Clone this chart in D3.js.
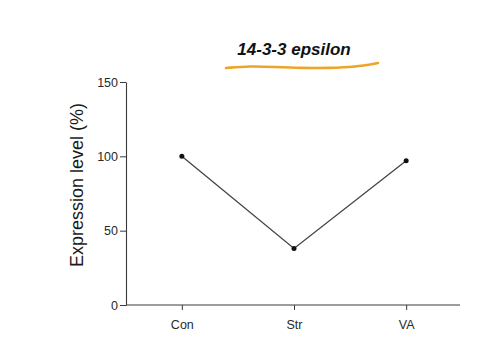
<!DOCTYPE html>
<html>
<head>
<meta charset="utf-8">
<script src="https://cdn.jsdelivr.net/npm/d3@7"></script>
<style>
  body { margin: 0; background: #fff; }
  text { font-family: "Liberation Sans", Arial, sans-serif; }
</style>
</head>
<body>
<div id="chart"></div>
<script>
var groups = ["Con", "Str", "VA"];
var expression = [100, 38, 97];
var yTicks = [0, 50, 100, 150];
var chartTitle = "14-3-3 epsilon";
var yLabel = "Expression level (%)";

var totalWidth = 502, totalHeight = 361;
var margin = {top: 82, right: 42, bottom: 56, left: 126};

var svg = d3.select("#chart").append("svg")
    .attr("width", totalWidth)
    .attr("height", totalHeight);

var x_scale = d3.scalePoint()
    .domain(groups)
    .range([margin.left + 2, totalWidth - margin.right])
    .padding(0.48);
var y_scale = d3.scaleLinear()
    .domain([0, 150])
    .range([totalHeight - margin.bottom, margin.top]);

// axes
var xAxis = svg.append("g")
    .attr("transform", "translate(0," + y_scale(0) + ")")
    .call(d3.axisBottom(x_scale).tickSize(5).tickSizeOuter(0));
var yAxis = svg.append("g")
    .attr("transform", "translate(" + margin.left + ",0)")
    .call(d3.axisLeft(y_scale).tickValues(yTicks).tickSize(6).tickSizeOuter(0));

[xAxis, yAxis].forEach(function(a){
    a.select(".domain").attr("stroke", "#3a3a3a").attr("stroke-width", 1.1);
    a.selectAll(".tick line").attr("stroke", "#3a3a3a");
    a.selectAll(".tick text").attr("fill", "#2a2a2a").style("font-size", "12.5px");
});
xAxis.selectAll(".tick text").attr("dy", "1.3em");
yAxis.selectAll(".tick text").attr("x", -8);
// extend x axis a bit to the left so it joins the y axis
xAxis.select(".domain").attr("d", "M" + (margin.left) + ",0H" + (totalWidth - margin.right));

// line + points
var line = d3.line()
    .x(function(d, i){ return x_scale(groups[i]); })
    .y(function(d){ return y_scale(d); });

svg.append("path")
    .datum(expression)
    .attr("d", line)
    .attr("fill", "none")
    .attr("stroke", "#444")
    .attr("stroke-width", 1.3);

svg.append("g").selectAll("circle")
    .data(expression)
    .enter()
    .append("circle")
    .attr("cx", function(d, i){ return x_scale(groups[i]); })
    .attr("cy", function(d){ return y_scale(d); })
    .attr("r", 2.5)
    .attr("fill", "#111");

// title
svg.append("text")
    .attr("x", 294)
    .attr("y", 55)
    .attr("text-anchor", "middle")
    .style("font-size", "17px")
    .style("font-weight", "bold")
    .style("font-style", "italic")
    .attr("fill", "#111")
    .text(chartTitle);

// orange hand-drawn underline
var underline = [[226, 68], [250, 66], [275, 67], [300, 68], [330, 68], [355, 67], [378, 63]];
svg.append("path")
    .attr("d", d3.line().curve(d3.curveBasis)(underline))
    .attr("fill", "none")
    .attr("stroke", "#eda528")
    .attr("stroke-width", 2.6)
    .attr("stroke-linecap", "round");

// y label
svg.append("text")
    .attr("transform", "translate(83,185) rotate(-90)")
    .attr("text-anchor", "middle")
    .style("font-size", "18px")
    .attr("fill", "#1a1a1a")
    .text(yLabel);
</script>
</body>
</html>
